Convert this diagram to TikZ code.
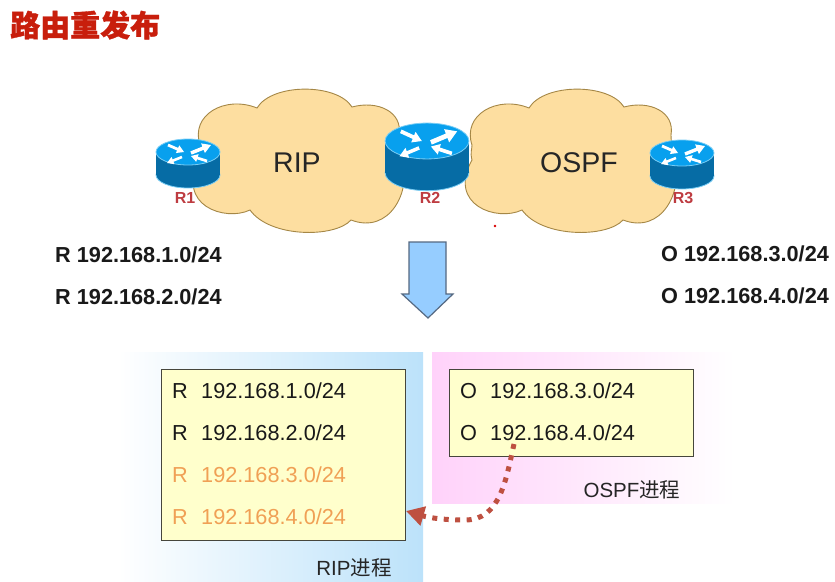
\documentclass[tikz,border=0pt]{standalone}
\usepackage{fontspec}
\setmainfont{Liberation Sans}
\newfontfamily\cjk{Noto Sans CJK SC}
\newfontfamily\cjkt[BoldFeatures={FakeBold=1.2}]{Noto Sans CJK SC}
\usetikzlibrary{arrows.meta,calc}
\definecolor{cloudfill}{RGB}{253,222,160}
\definecolor{cloudedge}{RGB}{165,135,70}
\definecolor{rtop}{RGB}{8,160,238}
\definecolor{rside}{RGB}{6,108,165}
\definecolor{rglow}{RGB}{120,205,245}
\definecolor{boxfill}{RGB}{255,255,204}
\definecolor{boxedge}{RGB}{70,70,60}
\definecolor{orangetxt}{RGB}{240,160,85}
\definecolor{rlabel}{RGB}{190,60,65}
\definecolor{flow}{RGB}{190,80,65}
\definecolor{titlered}{RGB}{200,30,12}
\newcommand{\fs}[1]{\fontsize{#1}{#1}\selectfont}
\newcommand{\cloudpath}{(257,108)
  .. controls (272,83) and (337,83) .. (352,107)
  .. controls (378,100) and (403,112) .. (399,135)
  .. controls (399,145) and (402,150) .. (402,160)
  .. controls (412,190) and (390,235) .. (351,220)
  .. controls (335,238) and (270,238) .. (250,210)
  .. controls (225,222) and (175,205) .. (200,160)
  .. controls (198,152) and (200,150) .. (200,145)
  .. controls (190,115) and (225,95) .. (257,108) -- cycle}
\newcommand{\flatarrow}[4]{%
  \pgfmathsetmacro\adx{#3-#1}\pgfmathsetmacro\ady{#4-#2}%
  \pgfmathsetmacro\bx{#1+.6*\adx}\pgfmathsetmacro\by{#2+.6*\ady}%
  \pgfmathsetmacro\sx{-.08*\ady}\pgfmathsetmacro\sy{.08*\adx}%
  \pgfmathsetmacro\hx{-.24*\ady}\pgfmathsetmacro\hy{.24*\adx}%
  \fill[white] ({#1+\sx},{#2+\sy}) -- ({\bx+\sx},{\by+\sy}) -- ({\bx+\hx},{\by+\hy}) -- (#3,#4)
    -- ({\bx-\hx},{\by-\hy}) -- ({\bx-\sx},{\by-\sy}) -- ({#1-\sx},{#2-\sy}) -- cycle;}
\tikzset{
  cloudshape/.style={fill=cloudfill,draw=cloudedge,line width=.9pt},
  router/.pic={
    \fill[rside,draw=rglow,line width=.8pt] (0,23) ellipse [x radius=32,y radius=13];
    \fill[rside] (-32,0) rectangle (32,23);
    \fill[rtop,draw=rglow,line width=.8pt] (0,0) ellipse [x radius=32,y radius=13];
    \flatarrow{-20}{-7}{-4}{0}
    \flatarrow{3}{1}{23}{-7}
    \flatarrow{-6}{5}{-21}{11}
    \flatarrow{19}{9}{3}{4}
  },
  rname/.style={font=\fs{16}\bfseries,text=rlabel,inner sep=0pt},
  cloudname/.style={font=\fs{28.5},text=black!85,inner sep=0pt},
  boldroute/.style={font=\fs{21.7}\bfseries,text=black!90,anchor=west,inner sep=0pt},
  routetxt/.style={font=\fs{21.7},anchor=west,inner sep=0pt,text=black!90},
  newroute/.style={routetxt,text=orangetxt},
  tablebox/.style={draw=boxedge,fill=boxfill,line width=1pt,inner sep=0pt,anchor=north west},
  proclabel/.style={font=\fs{20.5},inner sep=0pt,text=black!85},
  flowline/.style={draw=flow,line width=5pt,dash pattern=on 5pt off 6.5pt,-{Triangle[length=18pt,width=19pt]}}
}
\begin{document}
\begin{tikzpicture}[x=1pt,y=-1pt]
\useasboundingbox (0,0) rectangle (835,581);
\fill[white] (0,0) rectangle (835,581);
\node[font=\fs{30}\cjkt\bfseries,text=titlered,anchor=west,inner sep=0pt] (title) at (10,25) {路由重发布};
% clouds
\draw[cloudshape] \cloudpath;
\begin{scope}[xshift=272pt]
\draw[cloudshape] \cloudpath;
\end{scope}
\node[cloudname] (ripname) at (297,163) {RIP};
\node[cloudname] (ospfname) at (579,163) {OSPF};
% routers
\pic at (188,152) {router};
\pic[xscale=1.31,yscale=1.38] at (427,141) {router};
\pic at (682,153) {router};
\node[rname] (r1) at (185,198) {R1};
\node[rname] (r2) at (430,198) {R2};
\node[rname] (r3) at (683,198) {R3};
\fill[red!85!black] (495,226) circle (1.3);
% summary routes
\node[boldroute] (a1) at (55,255) {R 192.168.1.0/24};
\node[boldroute] (a2) at (55,297) {R 192.168.2.0/24};
\node[boldroute] (b1) at (661,254) {O 192.168.3.0/24};
\node[boldroute] (b2) at (661,296) {O 192.168.4.0/24};
% down arrow
\filldraw[fill={rgb,255:red,150;green,205;blue,255},draw={rgb,255:red,85;green,105;blue,130},line width=1.2pt,line join=miter]
  (409,242) -- (446,242) -- (446,294) -- (453,294) -- (428,318) -- (402,294) -- (409,294) -- cycle;
% panels
\shade[left color=white,right color={rgb,255:red,188;green,226;blue,250}] (118,352) rectangle (423,581);
\shade[left color={rgb,255:red,255;green,210;blue,250},right color=white] (432,352) rectangle (735,503);
% tables
\node[tablebox,minimum width=244pt,minimum height=171pt] (ripbox) at (161,369) {};
\node[tablebox,minimum width=244pt,minimum height=87pt] (ospfbox) at (449,369) {};
\foreach \y/\t/\s/\n in {391/192.168.1.0\slash 24/routetxt/p1,433/192.168.2.0\slash 24/routetxt/p2,475/192.168.3.0\slash 24/newroute/p3,517/192.168.4.0\slash 24/newroute/p4}{
  \node[\s] (\n l) at (172,\y) {R};
  \node[\s] (\n) at (201,\y) {\t};
}
\foreach \y/\t/\n in {391/192.168.3.0\slash 24/q1,433/192.168.4.0\slash 24/q2}{
  \node[routetxt] (\n l) at (460,\y) {O};
  \node[routetxt] (\n) at (490,\y) {\t};
}
\node[proclabel] (riplabel) at (354,568) {RIP{\cjk 进程}};
\node[proclabel] (ospflabel) at (632,490) {OSPF{\cjk 进程}};
% redistribution
\coordinate (flowstart) at (514,444);
\coordinate (ripin) at (406,511);
\draw[flowline] (flowstart) .. controls (506,480) and (500,520) .. (465,520) .. controls (445,520) and (430,518) .. (ripin);
\end{tikzpicture}
\end{document}
